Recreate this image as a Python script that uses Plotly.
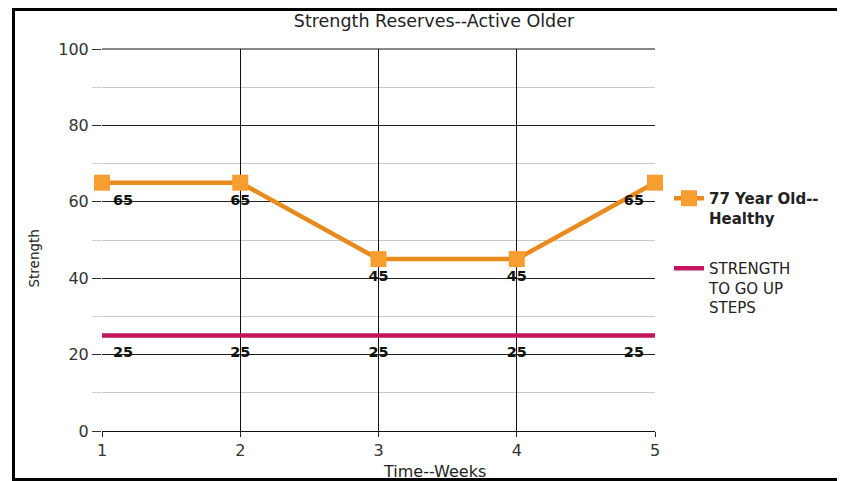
import plotly.graph_objects as go

weeks = [1, 2, 3, 4, 5]
healthy_77 = [65, 65, 45, 45, 65]
steps_strength = [25, 25, 25, 25, 25]
y_ticks = [0, 20, 40, 60, 80, 100]

label_pos = ["bottom right", "bottom center", "bottom center", "bottom center", "bottom left"]

# page body has an 8px margin: figure is drawn 8px smaller and coords below are in page pixels
W, H = 837, 473
L, R, T, B = 94, 190, 41, 50
pw, ph = W - L - R, H - T - B
FONT = "DejaVu Sans"

def px_x(x):
    return (x - 102) / pw

def px_y(y):
    return (431 - y) / ph

fig = go.Figure()

fig.add_trace(go.Scatter(
    x=weeks, y=steps_strength, mode="lines+markers+text",
    name="STRENGTH<br>TO GO UP<br>STEPS",
    line=dict(color="#C3145E", width=4.5),
    marker=dict(size=16, color="rgba(0,0,0,0)"),
    text=[f"<b>{v}</b>" for v in steps_strength],
    textposition=label_pos,
    textfont=dict(family=FONT, size=14.5, color="#111"),
    legendgroup="b", legendrank=2, cliponaxis=False,
))

fig.add_trace(go.Scatter(
    x=weeks, y=healthy_77, mode="lines+markers+text",
    name="<b>77 Year Old--<br>Healthy</b>",
    line=dict(color="#E88A1C", width=4.5),
    marker=dict(symbol="square", size=16, color="#F89E30"),
    text=[f"<b>{v}</b>" for v in healthy_77],
    textposition=label_pos,
    textfont=dict(family=FONT, size=14.5, color="#111"),
    legendgroup="a", legendrank=1, cliponaxis=False,
))

fig.update_layout(
    width=W, height=H,
    margin=dict(l=L, r=R, t=T, b=B),
    paper_bgcolor="white", plot_bgcolor="white",
    font=dict(family=FONT, size=15, color="#333"),
    title=dict(text="Strength Reserves--Active Older", x=(434 - 8) / W, xanchor="center",
               y=1 - (21 - 8) / H, yanchor="middle",
               font=dict(family=FONT, size=17.5, color="#222")),
    showlegend=True,
    legend=dict(x=px_x(669), y=px_y(182), xanchor="left", yanchor="top",
                font=dict(family=FONT, size=15, color="#222"), tracegroupgap=28,
                bgcolor="rgba(0,0,0,0)", itemwidth=30, valign="top"),
    xaxis=dict(range=[1, 5], tickvals=weeks, ticks="outside", ticklen=5,
               tickcolor="#222", showgrid=True, gridcolor="#111", gridwidth=1,
               showline=True, linecolor="#111", linewidth=1, zeroline=False,
               tickfont=dict(family=FONT, size=16, color="#333")),
    yaxis=dict(range=[0, 100], tickvals=y_ticks, ticks="outside", ticklen=9,
               tickcolor="#333", showgrid=True, gridcolor="#222", gridwidth=1,
               zeroline=False, showline=False,
               minor=dict(dtick=10, showgrid=True, gridcolor="#c8c8c8", gridwidth=1,
                          ticks="outside", ticklen=9, tickcolor="#ccc"),
               tickfont=dict(family=FONT, size=16, color="#333")),
    annotations=[
        dict(text="Time--Weeks", xref="paper", yref="paper", x=px_x(434), y=px_y(460),
             showarrow=False, font=dict(family=FONT, size=16, color="#222"),
             xanchor="center", yanchor="top"),
        dict(text="Strength", xref="paper", yref="paper", x=px_x(33.5), y=px_y(259),
             showarrow=False, textangle=-90, font=dict(family=FONT, size=13.5, color="#222"),
             xanchor="center", yanchor="middle"),
    ],
    shapes=[
        dict(type="rect", xref="paper", yref="paper",
             x0=px_x(13.5), x1=px_x(860), y0=px_y(479.5), y1=px_y(9.5),
             line=dict(color="#000", width=3), layer="above"),
        dict(type="line", xref="paper", yref="paper",
             x0=0, x1=1, y0=1, y1=1, line=dict(color="#111", width=1)),
    ],
)

fig.write_html("out.html")
